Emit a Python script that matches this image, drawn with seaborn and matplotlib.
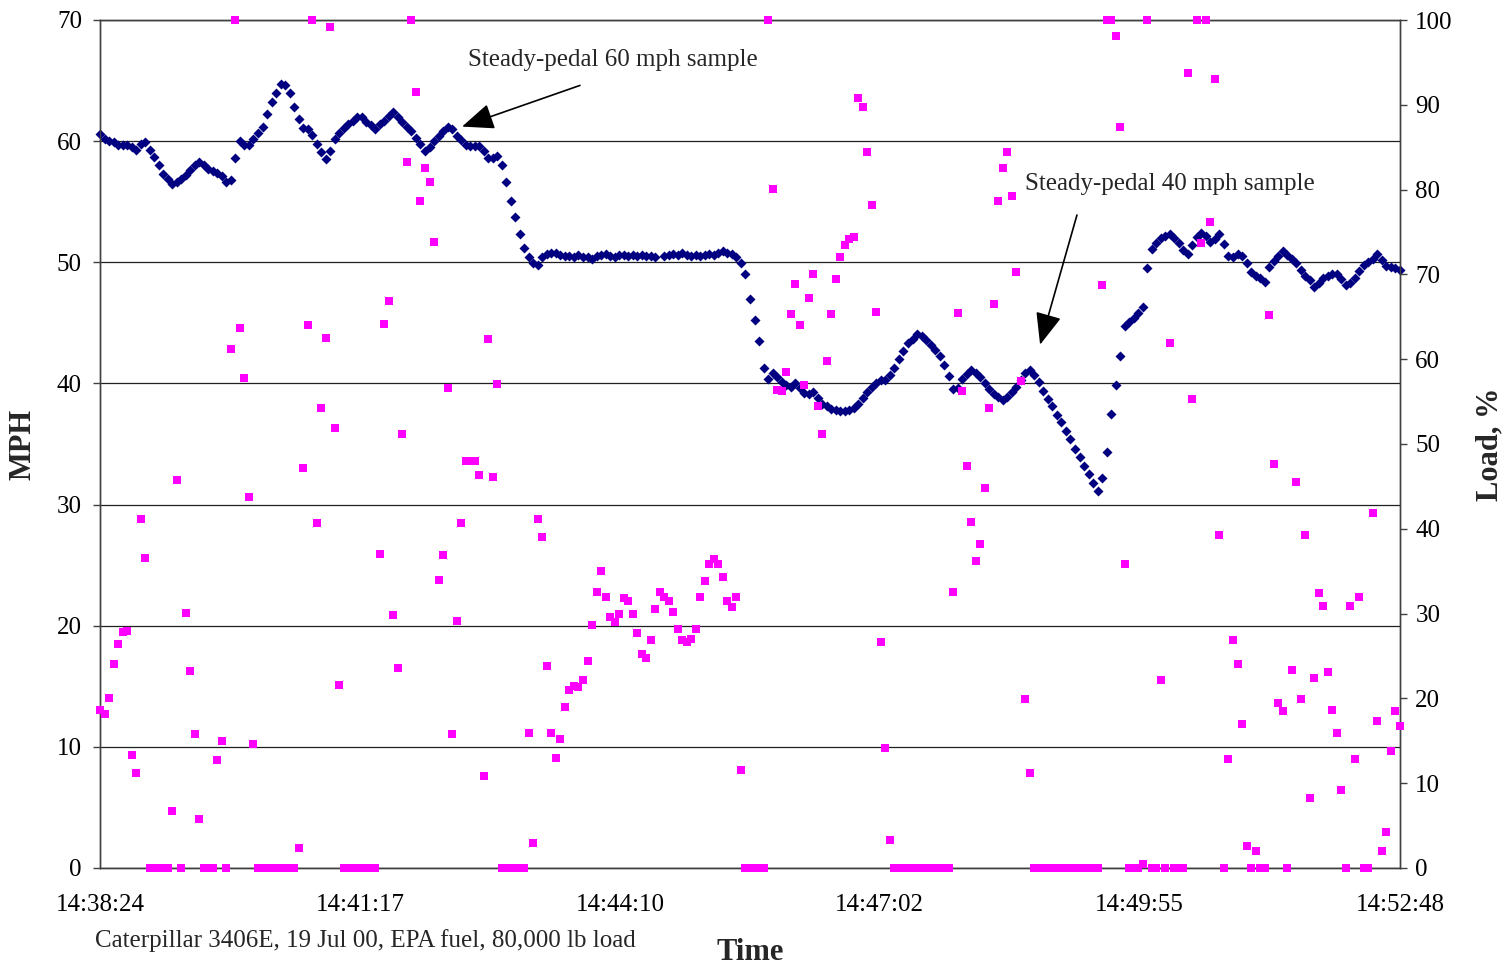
import numpy as np
import pandas as pd
import seaborn as sns
import matplotlib
matplotlib.use("Agg")
import matplotlib.pyplot as plt

# sample times, seconds after 14:38:24 (3 s step)
t = np.arange(0, 865, 3)

speed = [
    60.6, 60.2, 60.0, 59.9, 59.7, 59.7, 59.7, 59.5, 59.3, 59.8,
    59.9, 59.3, 58.7, 58.0, 57.3, 56.9, 56.5, 56.6, 56.9, 57.2,
    57.6, 58.0, 58.3, 58.0, 57.7, 57.5, 57.4, 57.1, 56.6, 56.8,
    58.6, 60.0, 59.7, 59.7, 60.2, 60.7, 61.2, 62.2, 63.2, 64.0,
    64.7, 64.6, 64.0, 62.8, 61.8, 61.1, 61.0, 60.5, 59.8, 59.1,
    58.5, 59.2, 60.2, 60.7, 61.1, 61.4, 61.7, 62.0, 62.0, 61.6,
    61.3, 61.0, 61.4, 61.7, 62.1, 62.4, 62.0, 61.6, 61.2, 60.8,
    60.3, 59.8, 59.2, 59.5, 60.0, 60.4, 60.8, 61.2, 61.0, 60.4,
    60.1, 59.7, 59.6, 59.6, 59.6, 59.2, 58.6, 58.6, 58.8, 58.0,
    56.6, 55.1, 53.7, 52.3, 51.2, 50.4, 49.9, 49.8, 50.4, 50.7,
    50.8, 50.8, 50.6, 50.5, 50.5, 50.4, 50.6, 50.4, 50.4, 50.3,
    50.5, 50.6, 50.7, 50.5, 50.4, 50.6, 50.6, 50.5, 50.6, 50.5,
    50.6, 50.5, 50.5, 50.4, np.nan, 50.5, 50.6, 50.7, 50.6, 50.8,
    50.6, 50.5, 50.6, 50.5, 50.6, 50.7, 50.6, 50.8, 50.9, 50.8,
    50.7, 50.4, 49.9, 49.0, 47.0, 45.2, 43.5, 41.3, 40.4, 40.9,
    40.5, 40.1, 39.9, 39.7, 40.0, 39.6, 39.2, 39.1, 39.3, 38.8,
    38.3, 38.1, 37.9, 37.8, 37.7, 37.7, 37.8, 38.0, 38.3, 38.8,
    39.3, 39.7, 40.0, 40.3, 40.3, 40.7, 41.3, 42.0, 42.7, 43.3,
    43.7, 44.1, 43.9, 43.6, 43.2, 42.8, 42.3, 41.5, 40.6, 39.5,
    39.6, 40.4, 40.8, 41.1, 40.9, 40.5, 40.0, 39.5, 39.1, 38.9,
    38.6, 38.9, 39.3, 39.7, 40.3, 40.9, 41.1, 40.7, 40.1, 39.4,
    38.7, 38.1, 37.4, 36.8, 36.1, 35.4, 34.6, 33.9, 33.2, 32.5,
    31.8, 31.1, 32.2, 34.3, 37.5, 39.9, 42.3, 44.7, 45.1, 45.4,
    45.8, 46.3, 49.5, 51.1, 51.6, 52.0, 52.2, 52.3, 52.0, 51.6,
    51.0, 50.7, 51.4, 52.1, 52.4, 52.2, 51.7, 51.9, 52.3, 51.5,
    50.5, 50.4, 50.7, 50.5, 49.9, 49.2, 48.9, 48.7, 48.4, 49.6,
    50.1, 50.5, 50.9, 50.6, 50.3, 49.9, 49.4, 48.9, 48.5, 48.0,
    48.3, 48.7, 48.9, 49.0, 49.0, 48.6, 48.1, 48.3, 48.7, 49.3,
    49.8, 50.0, 50.3, 50.7, 50.2, 49.7, 49.6, 49.5, 49.4,
]

load = [
    18.6, 18.2, 20.0, 24.0, 26.4, 27.8, 28.0, 13.3, 11.2, 41.1,
    36.6, 0, 0, 0, 0, 0, 6.7, 45.8, 0, 30.1,
    23.2, 15.8, 5.8, 0, 0, 0, 12.7, 15.0, 0, 61.2,
    100, 63.7, 57.8, 43.7, 14.6, 0, 0, 0, 0, 0,
    0, 0, 0, 0, 2.3, 47.2, 64.0, 100, 40.7, 54.3,
    62.5, 99.2, 51.9, 21.6, 0, 0, 0, 0, 0, 0,
    0, 0, 37.0, 64.1, 66.9, 29.8, 23.6, 51.2, 83.3, 100,
    91.5, 78.7, 82.6, 80.9, 73.8, 34.0, 36.9, 56.6, 15.8, 29.1,
    40.7, 48.0, 48.0, 48.0, 46.3, 10.9, 62.4, 46.1, 57.1, 0,
    0, 0, 0, 0, 0, 15.9, 3.0, 41.2, 39.0, 23.8,
    15.9, 13.0, 15.2, 19.0, 21.0, 21.5, 21.4, 22.2, 24.4, 28.7,
    32.5, 35.0, 32.0, 29.6, 29.0, 30.0, 31.8, 31.5, 30.0, 27.7,
    25.2, 24.8, 26.9, 30.5, 32.5, 32.0, 31.5, 30.2, 28.2, 26.9,
    26.7, 27.0, 28.2, 32.0, 33.8, 35.9, 36.4, 35.9, 34.3, 31.5,
    30.8, 31.9, 11.6, 0, 0, 0, 0, 0, 100, 80.1,
    56.4, 56.3, 58.5, 65.3, 68.9, 64.0, 57.0, 67.2, 70.0, 54.5,
    51.2, 59.8, 65.3, 69.5, 72.1, 73.5, 74.2, 74.4, 90.8, 89.7,
    84.4, 78.2, 65.6, 26.7, 14.1, 3.3, 0, 0, 0, 0,
    0, 0, 0, 0, 0, 0, 0, 0, 0, 32.5,
    65.4, 56.3, 47.4, 40.8, 36.2, 38.2, 44.8, 54.3, 66.5, 78.7,
    82.6, 84.4, 79.3, 70.3, 57.4, 19.9, 11.2, 0, 0, 0,
    0, 0, 0, 0, 0, 0, 0, 0, 0, 0,
    0, 0, 68.7, 100, 100, 98.1, 87.4, 35.8, 0, 0,
    0, 0.5, 100, 0, 0, 22.2, 0, 61.9, 0, 0,
    0, 93.7, 55.3, 100, 73.7, 100, 76.2, 93.0, 39.3, 0,
    12.9, 26.9, 24.1, 17.0, 2.6, 0, 2.0, 0, 0, 65.2,
    47.7, 19.4, 18.5, 0, 23.3, 45.5, 19.9, 39.3, 8.3, 22.4,
    32.4, 30.9, 23.1, 18.6, 15.9, 9.2, 0, 30.9, 12.8, 31.9,
    0, 0, 41.9, 17.3, 2.0, 4.3, 13.8, 18.5, 16.7,
]

tick_secs = [0, 173, 346, 518, 691, 864]
tick_labels = ['14:38:24', '14:41:17', '14:44:10', '14:47:02', '14:49:55', '14:52:48']

df = pd.DataFrame({'t': t, 'speed': speed, 'load': load})

sns.set_theme(style='white')
plt.rcParams['font.family'] = ['Liberation Serif', 'DejaVu Serif']

fig = plt.figure(figsize=(15.02, 9.65), dpi=100)
ax = fig.add_axes([100 / 1502, 1 - 868 / 965, 1300 / 1502, 848 / 965])
ax2 = ax.twinx()

sns.scatterplot(data=df, x='t', y='speed', marker='D', color='#000080',
                s=26, linewidth=0, ax=ax, clip_on=False, zorder=3)
sns.scatterplot(data=df, x='t', y='load', marker='s', color='#FF00FF',
                s=40, linewidth=0, ax=ax2, clip_on=False, zorder=3)

ax.set_xlim(0, 864)
ax.set_ylim(0, 70)
ax2.set_ylim(0, 100)
ax.set_yticks(range(0, 71, 10))
ax2.set_yticks(range(0, 101, 10))
ax.set_xticks(tick_secs)
ax.set_xticklabels(tick_labels)

ax.yaxis.grid(True, color='#202020', lw=0.9)
ax.set_axisbelow(True)
for a in (ax, ax2):
    for side in ('left', 'right', 'bottom', 'top'):
        a.spines[side].set_color('#404040')
        a.spines[side].set_linewidth(1.0)
    a.tick_params(axis='both', direction='out', length=5, width=1,
                  color='#404040', labelsize=18, colors='black')
ax.tick_params(axis='x', pad=14)
ax.tick_params(axis='y', pad=8)
ax2.tick_params(axis='y', pad=6)

ax.set_xlabel('')
ax.set_ylabel('MPH', fontsize=22, fontweight='bold', labelpad=14)
ax2.set_ylabel('Load, %', fontsize=22, fontweight='bold', labelpad=16)

fig.text(750 / 1502, 1 - 952 / 965, 'Time', fontsize=22, fontweight='bold',
         ha='center', va='center')
fig.text(95 / 1502, 1 - 941 / 965,
         'Caterpillar 3406E, 19 Jul 00, EPA fuel, 80,000 lb load',
         fontsize=18, ha='left', va='center')

arrow = dict(arrowstyle='-|>,head_length=1.1,head_width=0.45', color='black',
             lw=1.2, mutation_scale=18, shrinkA=0, shrinkB=0)
ax.text(244.6, 66.7, 'Steady-pedal 60 mph sample', fontsize=18,
        ha='left', va='center')
ax.annotate('', xy=(240.6, 61.2), xytext=(319, 64.6), arrowprops=arrow)
ax.text(614.8, 56.5, 'Steady-pedal 40 mph sample', fontsize=18,
        ha='left', va='center')
ax.annotate('', xy=(624.8, 43.2), xytext=(649.3, 53.9), arrowprops=arrow)

fig.savefig('out.png', dpi=100)
